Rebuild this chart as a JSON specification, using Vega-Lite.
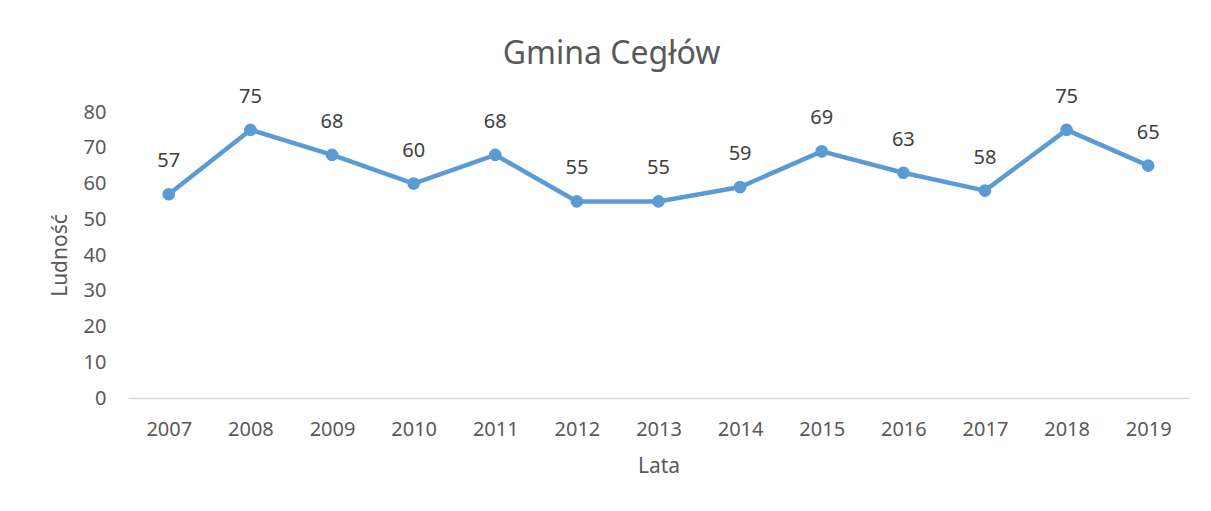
{
  "$schema": "https://vega.github.io/schema/vega-lite/v6.json",
  "autosize": "none",
  "width": 1061,
  "height": 286,
  "padding": {"left": 128, "top": 112, "right": 22, "bottom": 113},
  "background": "white",
  "config": {
    "font": "Noto Sans",
    "view": {"stroke": null}
  },
  "title": {
    "text": "Gmina Cegłów",
    "fontSize": 32,
    "font": "Noto Sans",
    "fontWeight": "normal",
    "color": "#595959",
    "dx": -47,
    "offset": 16
  },
  "data": {
    "values": [
      {"rok": "2007", "ludnosc": 57},
      {"rok": "2008", "ludnosc": 75},
      {"rok": "2009", "ludnosc": 68},
      {"rok": "2010", "ludnosc": 60},
      {"rok": "2011", "ludnosc": 68},
      {"rok": "2012", "ludnosc": 55},
      {"rok": "2013", "ludnosc": 55},
      {"rok": "2014", "ludnosc": 59},
      {"rok": "2015", "ludnosc": 69},
      {"rok": "2016", "ludnosc": 63},
      {"rok": "2017", "ludnosc": 58},
      {"rok": "2018", "ludnosc": 75},
      {"rok": "2019", "ludnosc": 65}
    ]
  },
  "encoding": {
    "x": {
      "field": "rok",
      "type": "ordinal",
      "scale": {"type": "point", "padding": 0.5},
      "axis": {
        "title": "Lata",
        "titleFontSize": 21,
        "titleFontWeight": "normal",
        "titleColor": "#595959",
        "titlePadding": 16,
        "labelAngle": 0,
        "labelFontSize": 20,
        "labelColor": "#595959",
        "labelPadding": 21,
        "ticks": false,
        "domainColor": "#d9d9d9",
        "domainWidth": 1.5,
        "grid": false
      }
    },
    "y": {
      "field": "ludnosc",
      "type": "quantitative",
      "scale": {"domain": [0, 80]},
      "axis": {
        "title": "Ludność",
        "titleFontSize": 21,
        "titleFontWeight": "normal",
        "titleColor": "#595959",
        "titlePadding": 13,
        "values": [0, 10, 20, 30, 40, 50, 60, 70, 80],
        "labelFontSize": 20,
        "labelColor": "#595959",
        "labelPadding": 22,
        "ticks": false,
        "domain": false,
        "grid": false
      }
    }
  },
  "layer": [
    {
      "mark": {"type": "line", "color": "#5B9BD5", "strokeWidth": 4.5, "clip": false}
    },
    {
      "mark": {"type": "point", "filled": true, "color": "#5B9BD5", "opacity": 1, "size": 160, "clip": false}
    },
    {
      "mark": {"type": "text", "dy": -33, "fontSize": 20, "color": "#404040", "clip": false},
      "encoding": {"text": {"field": "ludnosc", "type": "quantitative"}}
    }
  ]
}
